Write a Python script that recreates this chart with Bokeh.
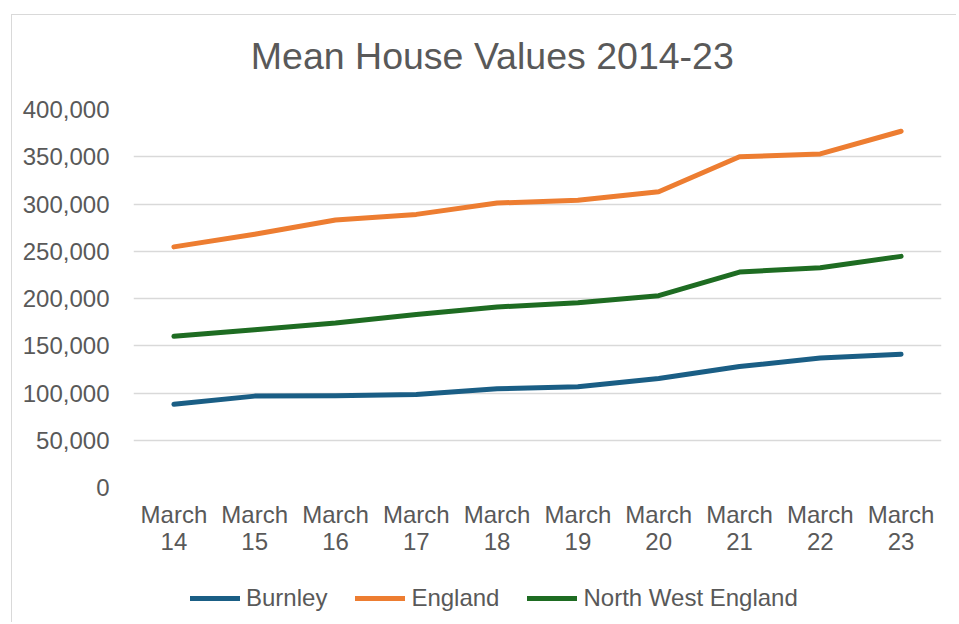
from bokeh.plotting import figure
from bokeh.layouts import column
from bokeh.models import (Range1d, FactorRange, FixedTicker, NumeralTickFormatter,
                          Legend, LegendItem, Label)
from bokeh.embed import file_html
from bokeh.resources import INLINE

# ---- data ----
title_text = "Mean House Values 2014-23"
categories = ["March\n14", "March\n15", "March\n16", "March\n17", "March\n18",
              "March\n19", "March\n20", "March\n21", "March\n22", "March\n23"]
burnley = [88000, 96700, 97000, 98500, 104500, 106600, 115400, 128000, 137000, 141000]
england = [254600, 268000, 283000, 289000, 301000, 304000, 313000, 350000, 353000, 377000]
north_west = [160000, 167000, 174000, 183000, 191000, 195500, 203000, 228000, 232600, 244600]
y_ticks = [0, 50000, 100000, 150000, 200000, 250000, 300000, 350000, 400000]
series_names = ["Burnley", "England", "North West England"]
series_colors = ["#1A5E85", "#ED7D31", "#1E6C22"]
series_values = [burnley, england, north_west]

FONT = "Liberation Sans"
GREY = "#595959"
BORDER = "1.5px solid #D9D9D9"
W = 945

# ---- title strip ----
TH = 62
tf = figure(width=W, height=TH, x_range=Range1d(0, W - 1.5), y_range=Range1d(0, TH - 1.5),
            output_backend="svg", toolbar_location=None,
            x_axis_type=None, y_axis_type=None,
            min_border=0, styles={"border-left": BORDER, "border-top": BORDER})
tf.outline_line_color = None
tf.background_fill_color = "white"
tf.border_fill_color = "white"
tf.xgrid.grid_line_color = None
tf.ygrid.grid_line_color = None
tf.add_layout(Label(x=419, y=20.5, text=title_text, text_align="center",
                    text_baseline="middle", text_font=FONT,
                    text_font_size="37.5px", text_color=GREY))

# ---- main chart ----
p = figure(width=W, height=494, x_range=FactorRange(*categories, range_padding=0),
           y_range=Range1d(0, 400000), output_backend="svg", toolbar_location=None,
           min_border_left=121, min_border_right=16, min_border_top=33,
           min_border_bottom=83, styles={"border-left": BORDER})
p.background_fill_color = "white"
p.border_fill_color = "white"
p.outline_line_color = None

p.xaxis.axis_line_color = None
p.xaxis.major_tick_line_color = None
p.xaxis.minor_tick_line_color = None
p.xaxis.major_label_text_font = FONT
p.xaxis.major_label_text_font_size = "24px"
p.xaxis.major_label_text_color = GREY
p.xaxis.major_label_standoff = 7
p.xaxis.major_label_text_line_height = 1.0
p.xaxis.major_label_orientation = "horizontal"

p.yaxis.axis_line_color = None
p.yaxis.major_tick_line_color = None
p.yaxis.minor_tick_line_color = None
p.yaxis.ticker = FixedTicker(ticks=y_ticks)
p.yaxis.formatter = NumeralTickFormatter(format="0,0")
p.yaxis.major_label_text_font = FONT
p.yaxis.major_label_text_font_size = "24px"
p.yaxis.major_label_text_color = GREY
p.yaxis.major_label_standoff = 18

p.xgrid.grid_line_color = None
p.ygrid.grid_line_color = "#D9D9D9"
p.ygrid.grid_line_width = 1.5

for vals, col in zip(series_values, series_colors):
    p.line(categories, vals, line_color=col, line_width=5,
           line_cap="round", line_join="round")

# ---- legend strip (same series drawn outside the visible y range, only to feed the legend) ----
lf = figure(width=W, height=52, x_range=FactorRange(*categories, range_padding=0),
            y_range=Range1d(-2, -1),
            output_backend="svg", toolbar_location=None,
            x_axis_type=None, y_axis_type=None,
            min_border_left=121, min_border_right=16, min_border_top=0,
            min_border_bottom=0, styles={"border-left": BORDER})
lf.outline_line_color = None
lf.background_fill_color = "white"
lf.border_fill_color = "white"
lf.xgrid.grid_line_color = None
lf.ygrid.grid_line_color = None

items = []
for name, vals, col in zip(series_names, series_values, series_colors):
    r = lf.line(categories, vals, line_color=col, line_width=5, line_cap="round")
    items.append(LegendItem(label=name, renderers=[r]))

legend = Legend(items=items, orientation="horizontal", location=(57, 10))
legend.label_text_font = FONT
legend.label_text_font_size = "24px"
legend.label_text_color = GREY
legend.glyph_width = 50
legend.glyph_height = 28
legend.label_height = 28
legend.label_standoff = 6
legend.spacing = 28
legend.padding = 0
legend.margin = 0
legend.border_line_color = None
legend.background_fill_alpha = 0
lf.add_layout(legend, "center")

layout = column(tf, p, lf, spacing=0, margin=(14, 0, 0, 11))

open("out.html", "w").write(file_html(layout, INLINE))
